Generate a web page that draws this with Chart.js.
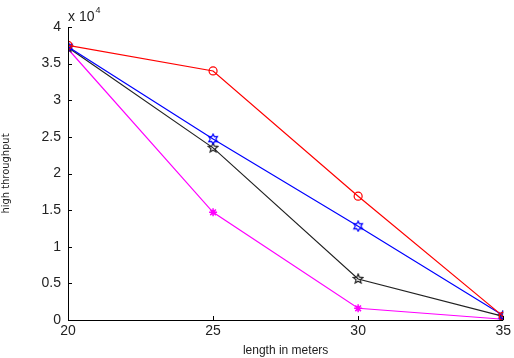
<!DOCTYPE html>
<html>
<head>
<meta charset="utf-8">
<script src="https://cdn.jsdelivr.net/npm/chart.js@4.4.0/dist/chart.umd.min.js"></script>
<style>
  html,body{margin:0;padding:0;background:#fff;}
  #wrap{width:514px;height:358px;}
</style>
</head>
<body>
<div id="wrap"><canvas id="c"></canvas></div>
<script>
// values are in units of 10^4
const lengths = [20, 25, 30, 35];
const redVals = [3.75, 3.40, 1.69, 0.05];
const blueVals = [3.73, 2.47, 1.28, 0.06];
const blackVals = [3.72, 2.35, 0.56, 0.05];
const magentaVals = [3.70, 1.47, 0.16, 0.01];
const yTicks = [0, 0.5, 1, 1.5, 2, 2.5, 3, 3.5, 4];

function starImg(n, color, rOut, rIn){
  const s = 12, cv = document.createElement('canvas');
  cv.width = s; cv.height = s;
  const g = cv.getContext('2d');
  g.strokeStyle = color; g.lineWidth = 1.2;
  g.beginPath();
  for(let i=0;i<n*2;i++){
    const a = -Math.PI/2 + i*Math.PI/n;
    const r = i%2 ? rIn : rOut;
    const x = s/2 + r*Math.cos(a), y = s/2 + r*Math.sin(a);
    i ? g.lineTo(x,y) : g.moveTo(x,y);
  }
  g.closePath(); g.stroke();
  return cv;
}

const tickFont = { family:'Liberation Sans, Arial', size:14 };

const axisDecor = {
  id:'axisDecor',
  afterDraw(chart){
    const { ctx, scales:{x, y}, chartArea:a } = chart;
    ctx.save();
    ctx.strokeStyle = '#000'; ctx.lineWidth = 1;
    ctx.beginPath();
    ctx.moveTo(a.left+0.5, a.top); ctx.lineTo(a.left+0.5, a.bottom+0.5);
    ctx.lineTo(a.right, a.bottom+0.5);
    for(const v of yTicks){ const py = Math.round(y.getPixelForValue(v))+0.5; ctx.moveTo(a.left, py); ctx.lineTo(a.left+4, py); }
    for(const v of lengths){ const px = Math.round(x.getPixelForValue(v))+0.5; ctx.moveTo(px, a.bottom); ctx.lineTo(px, a.bottom-4); }
    ctx.stroke();
    ctx.fillStyle = '#222';
    ctx.font = '14px Liberation Sans, Arial';
    ctx.textBaseline = 'alphabetic';
    ctx.fillText('x 10', a.left, a.top-6);
    const w = ctx.measureText('x 10').width;
    ctx.font = '9px Liberation Sans, Arial';
    ctx.fillText('4', a.left+w+1, a.top-14);
    ctx.restore();
  }
};

new Chart(document.getElementById('c'), {
  type:'line',
  data:{
    labels: lengths,
    datasets:[
      { label:'red', data:redVals, borderColor:'#ff0000', pointStyle:'circle', pointRadius:4, pointBorderColor:'#ff0000', pointBackgroundColor:'rgba(0,0,0,0)', pointBorderWidth:1.2 },
      { label:'blue', data:blueVals, borderColor:'#0000ff', pointStyle:starImg(6,'#0000ff',5,2.8) },
      { label:'black', data:blackVals, borderColor:'#222222', pointStyle:starImg(5,'#222222',5,2.2) },
      { label:'magenta', data:magentaVals, borderColor:'#ff00ff', pointStyle:'star', pointRadius:4, pointBorderColor:'#ff00ff', pointBorderWidth:1.5 }
    ].map(d=>Object.assign({ borderWidth:1.2, tension:0, fill:false, pointRadius:4 }, d))
  },
  options:{
    responsive:true, maintainAspectRatio:false, animation:false,
    layout:{ padding:{ top:27, right:7, left:0, bottom:0 } },
    plugins:{ legend:{ display:false }, tooltip:{ enabled:false } },
    scales:{
      x:{
        type:'linear', min:20, max:35,
        afterFit(s){ s.height = 38; },
        afterBuildTicks(s){ s.ticks = lengths.map(v=>({ value:v })); },
        grid:{ display:false, drawTicks:false }, border:{ display:false },
        ticks:{ color:'#222', font:tickFont, padding:3, maxRotation:0, callback:v=>String(v) },
        title:{ display:true, text:'length in meters', color:'#222', font:{ family:'Liberation Sans, Arial', size:12 }, padding:{ top:1, bottom:0 } }
      },
      y:{
        type:'linear', min:0, max:4,
        afterFit(s){ s.width = 68; },
        afterBuildTicks(s){ s.ticks = yTicks.map(v=>({ value:v })); },
        grid:{ display:false, drawTicks:false }, border:{ display:false },
        ticks:{ color:'#222', font:tickFont, padding:7, callback:v=>String(v) },
        title:{ display:true, text:'high throughput', color:'#222', font:{ family:'DejaVu Sans Condensed, DejaVu Sans', size:11 }, padding:{ top:0, bottom:6 } }
      }
    }
  },
  plugins:[axisDecor]
});
</script>
</body>
</html>
